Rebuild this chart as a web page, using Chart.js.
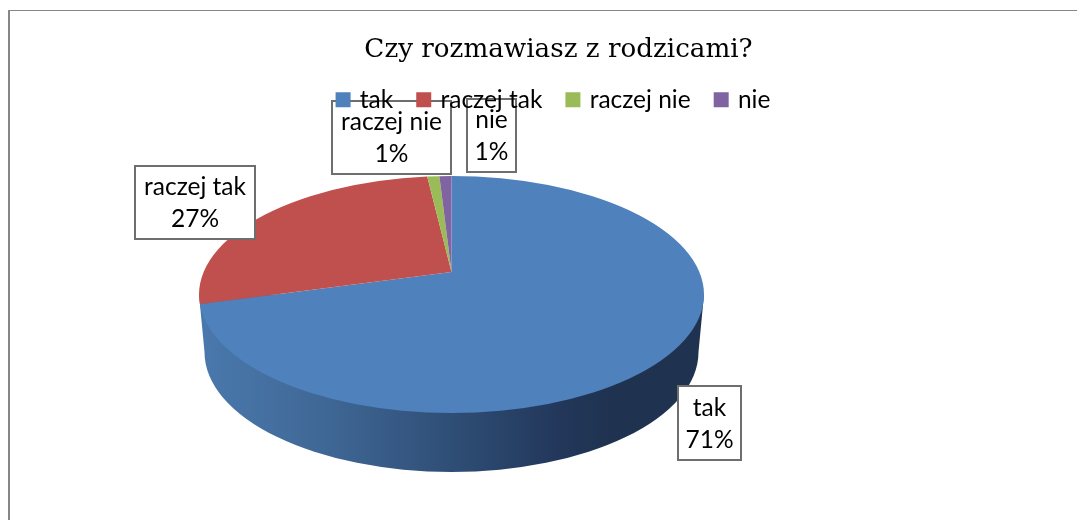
<!DOCTYPE html>
<html>
<head>
<meta charset="utf-8">
<style>
  html, body { margin: 0; padding: 0; background: #fff; overflow: hidden; }
  canvas { display: block; }
</style>
<script src="https://cdn.jsdelivr.net/npm/chart.js@4"></script>
</head>
<body>
<canvas id="chart" width="1077" height="520"></canvas>
<script>
const title = 'Czy rozmawiasz z rodzicami?';
const categories = ['tak', 'raczej tak', 'raczej nie', 'nie'];
const values = [71, 27, 1, 1];
const colors = ['#4F81BD', '#C0504D', '#9BBB59', '#8064A2'];

const labelFont = '24.5px Lato';

// the pie is a flat Chart.js pie, tilted by a transform around these numbers
const tilt = {
    apexX: 451.5, apexY: 272,
    scaleY: 0.497,
    faceCy: 294.5, faceRx: 252.5, faceRy: 118.5,
    baseCy: 352, baseRx: 247, baseRy: 120
};

// left, top, right, bottom of the label boxes, in category order
const labelBoxes = [
    [678, 386, 741, 460],
    [135, 166, 255, 239],
    [332, 101, 451, 174],
    [467, 99, 516, 172]
];

const tiltPlugin = {
    id: 'tilt',
    beforeLayout(chart) {
        // legend has to end up on top of the label boxes
        chart.legend._layers = () => [{ z: 1, draw() { chart.legend.draw(); } }];
    },
    afterLayout(chart) {
        // legend sits a little left of and closer to the title than the layout gives
        chart.legend.left -= 8;
        chart.legend.top -= 4;
    },
    beforeDraw(chart) {
        const ctx = chart.ctx;
        // chart frame, only top and left are visible
        ctx.save();
        ctx.fillStyle = '#868686';
        ctx.fillRect(8, 10, 1069, 1);
        ctx.fillRect(8, 10, 2, 510);
        ctx.restore();
    },
    beforeDatasetsDraw(chart) {
        const ctx = chart.ctx;
        const arc = chart.getDatasetMeta(0).data[0];
        const t = tilt;

        // side wall
        ctx.save();
        const grad = ctx.createLinearGradient(t.apexX - t.baseRx, 0, t.apexX + t.baseRx, 0);
        grad.addColorStop(0, '#4A78AC');
        grad.addColorStop(0.25, '#3F6795');
        grad.addColorStop(0.5, '#2F4E76');
        grad.addColorStop(0.72, '#22375A');
        grad.addColorStop(0.82, '#1F3350');
        grad.addColorStop(1, '#1F3350');
        ctx.fillStyle = grad;
        ctx.beginPath();
        ctx.moveTo(t.apexX - t.faceRx, t.faceCy);
        ctx.lineTo(t.apexX - t.baseRx, t.baseCy);
        ctx.ellipse(t.apexX, t.baseCy, t.baseRx, t.baseRy, 0, Math.PI, 0, true);
        ctx.lineTo(t.apexX + t.faceRx, t.faceCy);
        ctx.closePath();
        ctx.fill();
        ctx.restore();

        // top face: oversized pie clipped to the ellipse, apex sits above its centre
        ctx.save();
        ctx.beginPath();
        ctx.ellipse(t.apexX, t.faceCy, t.faceRx, t.faceRy, 0, 0, Math.PI * 2);
        ctx.clip();
        const k = 320 / arc.outerRadius;
        ctx.translate(t.apexX, t.apexY);
        ctx.scale(k, k * t.scaleY);
        ctx.translate(-arc.x, -arc.y);
    },
    afterDatasetsDraw(chart) {
        const ctx = chart.ctx;
        ctx.restore();

        // label boxes
        const total = values.reduce((a, b) => a + b, 0);
        ctx.save();
        ctx.font = labelFont;
        ctx.textAlign = 'center';
        ctx.textBaseline = 'middle';
        categories.forEach((name, i) => {
            const [l, t, r, b] = labelBoxes[i];
            ctx.fillStyle = '#fff';
            ctx.fillRect(l, t, r - l, b - t);
            ctx.strokeStyle = '#6E6E6E';
            ctx.lineWidth = 2;
            ctx.strokeRect(l, t, r - l, b - t);
            ctx.fillStyle = '#000';
            const cx = (l + r) / 2;
            const cy = (t + b) / 2;
            ctx.fillText(name, cx, cy - 15);
            ctx.fillText(Math.round(values[i] / total * 100) + '%', cx, cy + 17);
        });
        ctx.restore();
    }
};

new Chart(document.getElementById('chart'), {
    type: 'pie',
    data: {
        labels: categories,
        datasets: [{
            data: values,
            backgroundColor: colors,
            borderWidth: 0,
            clip: false
        }]
    },
    plugins: [tiltPlugin],
    options: {
        responsive: false,
        animation: false,
        devicePixelRatio: 1,
        layout: { padding: { left: 40, top: 34 } },
        plugins: {
            title: {
                display: true,
                text: title,
                color: '#000',
                font: { family: 'DejaVu Serif', size: 26.2, weight: 'normal' },
                padding: 0
            },
            legend: {
                position: 'top',
                labels: {
                    color: '#000',
                    font: { family: 'Lato', size: 24.5 },
                    boxWidth: 9,
                    boxHeight: 9,
                    padding: 26,
                    generateLabels(chart) {
                        return Chart.overrides.pie.plugins.legend.labels.generateLabels(chart).map(item => {
                            item.strokeStyle = item.fillStyle;
                            item.lineWidth = 6;
                            return item;
                        });
                    }
                }
            },
            tooltip: { enabled: false }
        }
    }
});
</script>
</body>
</html>
